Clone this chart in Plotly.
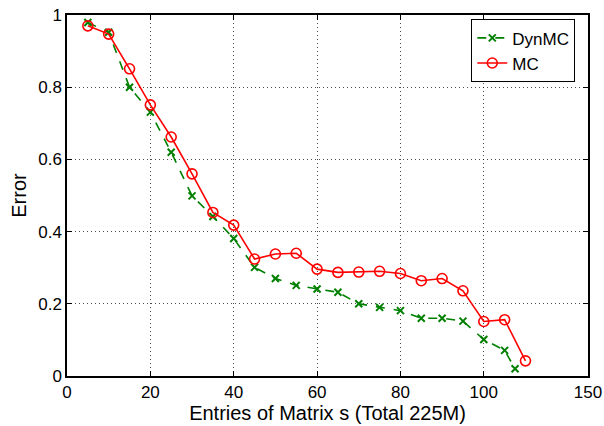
import plotly.graph_objects as go

# Data
dyn_x = [5, 10, 15, 20, 25, 30, 35, 40, 45, 50, 55, 60, 65, 70, 75, 80, 85, 90, 95, 100, 105, 107.5]
dyn_y = [0.979, 0.952, 0.80, 0.731, 0.620, 0.499, 0.442, 0.381, 0.301, 0.270, 0.251, 0.241,
         0.232, 0.200, 0.190, 0.181, 0.160, 0.160, 0.152, 0.101, 0.071, 0.020]
mc_x = [5, 10, 15, 20, 25, 30, 35, 40, 45, 50, 55, 60, 65, 70, 75, 80, 85, 90, 95, 100, 105, 110]
mc_y = [0.970, 0.947, 0.851, 0.751, 0.662, 0.560, 0.453, 0.418, 0.324, 0.338, 0.340, 0.296,
        0.287, 0.288, 0.290, 0.284, 0.264, 0.270, 0.236, 0.151, 0.156, 0.042]
x_tickvals = [0, 20, 40, 60, 80, 100, 125]
x_ticktext = ["0", "20", "40", "60", "80", "100", "150"]
y_tickvals = [0, 0.2, 0.4, 0.6, 0.8, 1]
y_ticktext = ["0", "0.2", "0.4", "0.6", "0.8", "1"]

FONT = "Liberation Sans, Arial, Helvetica, sans-serif"

fig = go.Figure()
fig.add_trace(go.Scatter(
    x=dyn_x, y=dyn_y, mode="lines+markers", name="DynMC",
    line=dict(color="rgb(0,128,0)", width=1.6, dash="dash"),
    marker=dict(symbol="x-thin", size=7, line=dict(color="rgb(0,128,0)", width=2), color="rgb(0,128,0)"),
))
fig.add_trace(go.Scatter(
    x=mc_x, y=mc_y, mode="lines+markers", name="MC",
    line=dict(color="red", width=1.6),
    marker=dict(symbol="circle-open", size=10, line=dict(color="red", width=1.6), color="red"),
))

axis_common = dict(
    showline=True, linecolor="black", linewidth=1.5, mirror="allticks",
    ticks="inside", ticklen=5, tickcolor="black", tickwidth=1,
    showgrid=True, gridcolor="rgba(0,0,0,0.7)", griddash="1px,3px", gridwidth=1,
    zeroline=False, automargin=False,
    tickfont=dict(family=FONT, size=17, color="black"),
)

fig.update_layout(
    width=604, height=426,
    margin=dict(l=67, r=16, t=15, b=50),
    paper_bgcolor="white", plot_bgcolor="white",
    font=dict(family=FONT, color="black"),
    xaxis=dict(range=[0, 125], tickmode="array", tickvals=x_tickvals, ticktext=x_ticktext,
               title=dict(text="Entries of Matrix s (Total 225M)", font=dict(size=20), standoff=0),
               **axis_common),
    yaxis=dict(range=[0, 1], tickmode="array", tickvals=y_tickvals, ticktext=y_ticktext,
               title=dict(text="Error", font=dict(size=20), standoff=6),
               **axis_common),
    legend=dict(x=0.776, y=0.988, xanchor="left", yanchor="top",
                bgcolor="white", bordercolor="black", borderwidth=1,
                font=dict(family=FONT, size=17, color="black"),
                tracegroupgap=0, itemwidth=30),
    showlegend=True,
)

fig.write_html("out.html",
               config={"displayModeBar": False},
               post_script="document.body.style.margin='0';document.body.style.overflow='hidden';")
